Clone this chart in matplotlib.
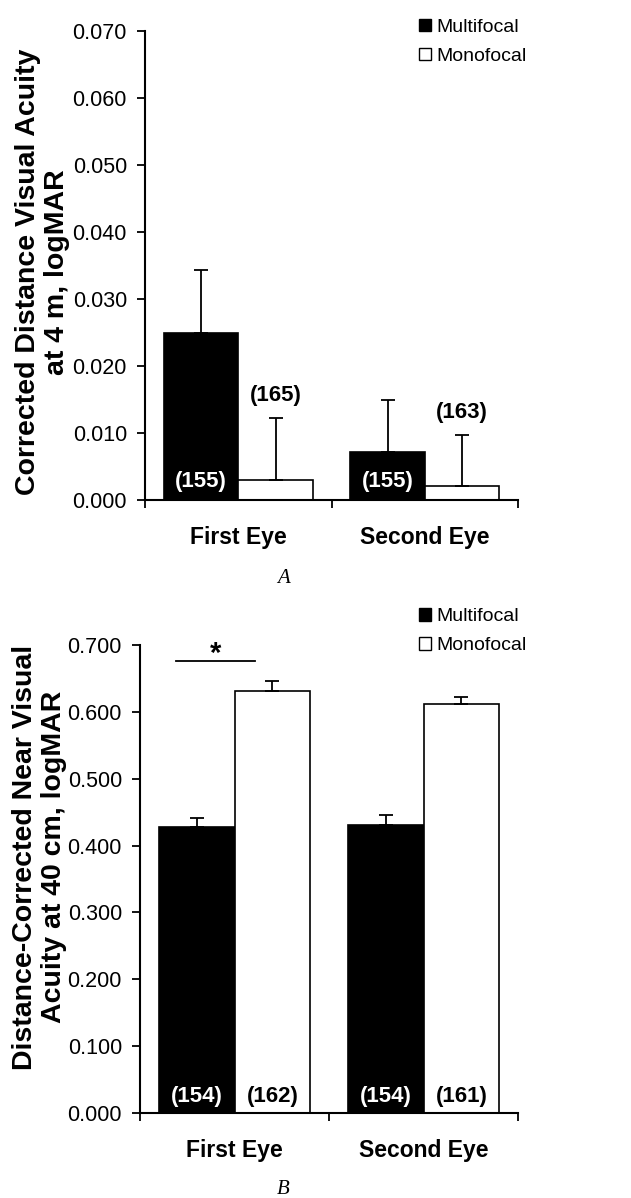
import numpy as np
import matplotlib
matplotlib.use('Agg')
import matplotlib.pyplot as plt
from matplotlib.patches import Patch

plt.rcParams['font.family'] = ['Liberation Sans', 'DejaVu Sans']

eyes = ['First Eye', 'Second Eye']
groups = ['Multifocal', 'Monofocal']

# A: corrected distance visual acuity at 4 m
cdva_multi = [0.025, 0.0072]
cdva_mono = [0.0030, 0.0021]
cdva_multi_err = [0.0093, 0.0077]
cdva_mono_err = [0.0092, 0.0076]
cdva_n_multi = ['(155)', '(155)']
cdva_n_mono = ['(165)', '(163)']
cdva_ticks = [0.0, 0.01, 0.02, 0.03, 0.04, 0.05, 0.06, 0.07]

# B: distance-corrected near visual acuity at 40 cm
dcnva_multi = [0.427, 0.430]
dcnva_mono = [0.631, 0.611]
dcnva_multi_err = [0.014, 0.015]
dcnva_mono_err = [0.015, 0.011]
dcnva_n_multi = ['(154)', '(154)']
dcnva_n_mono = ['(162)', '(161)']
dcnva_ticks = [0.0, 0.1, 0.2, 0.3, 0.4, 0.5, 0.6, 0.7]
sig_level = 0.676

W = 0.4
x = np.arange(len(eyes))


def draw_panel(ax, multi, mono, multi_err, mono_err, ticks, fmt):
    ax.bar(x - W/2, multi, W, color='black', edgecolor='black', linewidth=1.2,
           yerr=[np.zeros(2), multi_err], error_kw=dict(ecolor='black', elinewidth=1.3, capsize=5, capthick=1.3))
    ax.bar(x + W/2, mono, W, color='white', edgecolor='black', linewidth=1.2,
           yerr=[np.zeros(2), mono_err], error_kw=dict(ecolor='black', elinewidth=1.3, capsize=5, capthick=1.3))
    ax.set_xlim(-0.5, 1.5)
    ax.set_ylim(ticks[0], ticks[-1])
    ax.set_yticks(ticks)
    ax.set_yticklabels([fmt.format(t) for t in ticks], fontsize=15.5)
    ax.set_xticks(x)
    ax.set_xticklabels(eyes, fontsize=16.5, fontweight='bold')
    ax.set_xticks([-0.5, 0.5, 1.5], minor=True)
    ax.tick_params(axis='x', which='major', length=0, pad=19)
    ax.tick_params(axis='x', which='minor', length=6, width=1.3, direction='out')
    ax.tick_params(axis='y', length=6, width=1.3, direction='out', pad=7)
    for s in ['top', 'right']:
        ax.spines[s].set_visible(False)
    for s in ['left', 'bottom']:
        ax.spines[s].set_linewidth(1.5)


fig = plt.figure(figsize=(6.31, 11.98), dpi=100)

axA = fig.add_axes([0.2298, 0.5826, 0.5913, 0.3915])
draw_panel(axA, cdva_multi, cdva_mono, cdva_multi_err, cdva_mono_err, cdva_ticks, '{:.3f}')
for i in range(2):
    axA.text(x[i] - W/2, 0.0027, cdva_n_multi[i], color='white', fontsize=16,
             fontweight='bold', ha='center', va='center')
    axA.annotate(cdva_n_mono[i], (x[i] + W/2, cdva_mono[i] + cdva_mono_err[i]),
                 xytext=(0, 9), textcoords='offset points', fontsize=16,
                 fontweight='bold', ha='center', va='bottom')
axA.set_ylabel('Corrected Distance Visual Acuity\nat 4 m, logMAR', fontsize=20.5,
               fontweight='bold', linespacing=1.15)
axA.yaxis.set_label_coords(-0.2, 0.486)

axB = fig.add_axes([0.2219, 0.0710, 0.5991, 0.3906])
draw_panel(axB, dcnva_multi, dcnva_mono, dcnva_multi_err, dcnva_mono_err, dcnva_ticks, '{:.3f}')
for i in range(2):
    axB.text(x[i] - W/2, 0.024, dcnva_n_multi[i], color='white', fontsize=16,
             fontweight='bold', ha='center', va='center')
    axB.text(x[i] + W/2, 0.024, dcnva_n_mono[i], color='black', fontsize=16,
             fontweight='bold', ha='center', va='center')
axB.plot([-0.31, 0.11], [sig_level, sig_level], color='black', lw=1.3, clip_on=False)
axB.text(-0.1, 0.686, '*', fontsize=21, fontweight='bold', ha='center', va='center')
axB.set_ylabel('Distance-Corrected Near Visual\nAcuity at 40 cm, logMAR', fontsize=20.5,
               fontweight='bold', linespacing=1.15)
axB.yaxis.set_label_coords(-0.192, 0.547)

handles = [Patch(facecolor='black', edgecolor='black'), Patch(facecolor='white', edgecolor='black')]
for yy in [0.991, 0.499]:
    fig.legend(handles, groups, loc='upper left', bbox_to_anchor=(0.652, yy), frameon=False,
               fontsize=14, handlelength=0.62, handleheight=0.62, handletextpad=0.25,
               labelspacing=0.62, borderaxespad=0)

fig.text(0.449, 0.517, 'A', fontsize=15, fontstyle='italic', family='Liberation Serif',
         ha='center', va='center')
fig.text(0.449, 0.007, 'B', fontsize=15, fontstyle='italic', family='Liberation Serif',
         ha='center', va='center')

fig.savefig('out.png', dpi=100)
